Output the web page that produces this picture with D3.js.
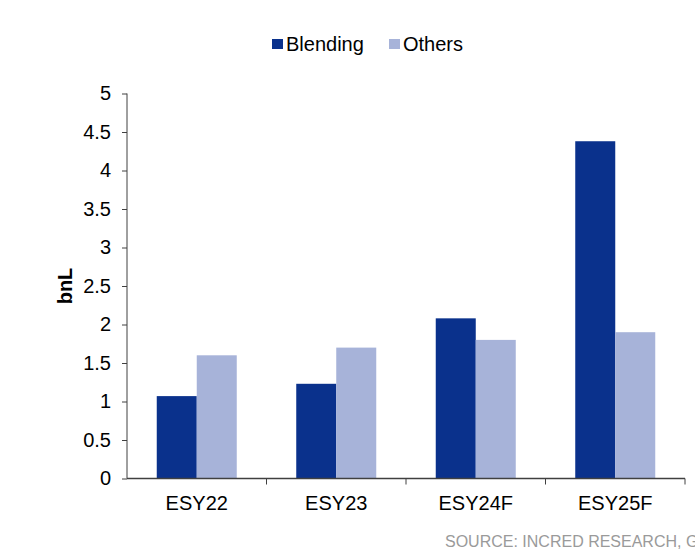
<!DOCTYPE html>
<html><head><meta charset="utf-8">
<script src="https://cdn.jsdelivr.net/npm/d3@7"></script>
<style>body{margin:0;background:#fff;}svg{display:block;font-family:"Liberation Sans",Arial,sans-serif;}</style>
</head><body>
<svg id="c" width="695" height="549"></svg>
<script>
const categories = ["ESY22","ESY23","ESY24F","ESY25F"];
const seriesNames = ["Blending","Others"];
const blending = [1.07,1.23,2.08,4.38];
const others = [1.60,1.70,1.80,1.90];
const yTicks = [0,0.5,1,1.5,2,2.5,3,3.5,4,4.5,5];
const colors = ["#0a318c","#a7b3d9"];

const svg = d3.select("#c");
const x0 = d3.scaleBand().domain(categories).range([127,685]).paddingInner(0).paddingOuter(0);
const y = d3.scaleLinear().domain([0,5]).range([478.5,93.5]);
const x1 = d3.scaleBand().domain(seriesNames).range([0,80]);
const data = categories.map((c,i)=>({cat:c, vals:[blending[i],others[i]]}));

const g = svg.append("g");
g.selectAll("g.grp").data(data).enter().append("g")
 .attr("transform",d=>`translate(${x0(d.cat)+x0.bandwidth()/2-40},0)`)
 .selectAll("rect").data(d=>d.vals.map((v,j)=>({v,j}))).enter().append("rect")
 .attr("x",d=>x1(seriesNames[d.j])).attr("width",x1.bandwidth())
 .attr("y",d=>y(d.v)).attr("height",d=>y(0)-y(d.v)).attr("fill",d=>colors[d.j]);

// y axis
const ya = svg.append("g").attr("transform","translate(127,0)")
 .call(d3.axisLeft(y).tickValues(yTicks).tickSize(5).tickPadding(11).tickFormat(d=>String(d)));
ya.selectAll("text").attr("font-size",20).attr("fill","#000").attr("font-family","Liberation Sans, Arial, sans-serif");
ya.selectAll("line").attr("stroke","#404040");
ya.select(".domain").attr("stroke","#404040").attr("d","M0,93.5V478.5");

// x axis
const xa = svg.append("g").attr("transform","translate(0,478.5)");
xa.append("line").attr("x1",127).attr("x2",685).attr("stroke","#404040").attr("stroke-width",1.5);
const bounds = categories.map(c=>x0(c)+x0.bandwidth());
xa.selectAll("line.tk").data(bounds).enter().append("line").attr("class","tk")
 .attr("x1",d=>d).attr("x2",d=>d).attr("y1",0).attr("y2",6).attr("stroke","#404040");
xa.selectAll("text").data(categories).enter().append("text")
 .attr("x",d=>x0(d)+x0.bandwidth()/2).attr("y",31).attr("text-anchor","middle")
 .attr("font-size",20).attr("fill","#000").text(d=>d);

// y label
svg.append("text").attr("transform","translate(72,286) rotate(-90)").attr("text-anchor","middle")
 .attr("font-size",20).attr("font-weight","bold").attr("fill","#000").text("bnL");

// legend
const leg = [{x:272,tx:286},{x:389,tx:403}];
seriesNames.forEach((s,i)=>{
  svg.append("rect").attr("x",leg[i].x).attr("y",39).attr("width",11).attr("height",10).attr("fill",colors[i]);
  svg.append("text").attr("x",leg[i].tx).attr("y",51).attr("font-size",20).attr("fill","#000").text(s);
});

// source
svg.append("text").attr("x",445).attr("y",546.5).attr("font-size",16).attr("fill","#9a9a9a")
 .text("SOURCE: INCRED RESEARCH, G");
</script>
</body></html>
